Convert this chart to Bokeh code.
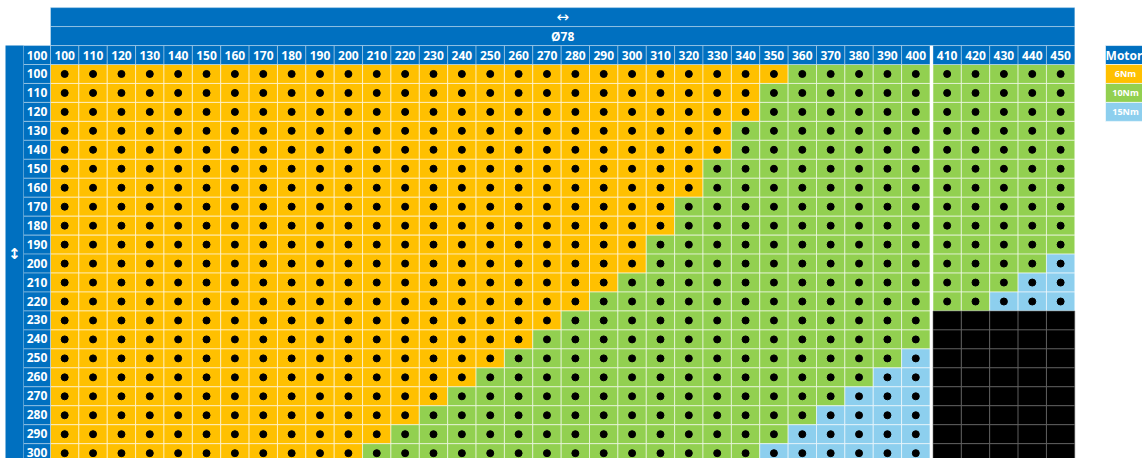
from bokeh.plotting import figure
from bokeh.models import Range1d
from bokeh.core.properties import value
from bokeh.embed import file_html
from bokeh.resources import INLINE

# ---------------- data ----------------
widths = list(range(100, 460, 10))          # column headers (mm)
heights = list(range(100, 310, 10))         # row headers (mm)
title_top = "\u2194"
title_sub = "\u00d878"
side_label = "\u2195"
corner_label = "100"
# last width that uses the 6Nm motor, per height row
orange_max = [350, 340, 340, 330, 330, 320, 320, 310, 310, 300, 300,
              290, 280, 270, 260, 250, 240, 230, 220, 210, 200]
# first width that needs the 15Nm motor, per height row (None = none)
blue_from = [None, None, None, None, None, None, None, None, None, None,
             450, 440, 430, None, None, 400, 390, 380, 370, 360, 350]
# largest width available, per height row
max_available = [450] * 13 + [400] * 8
legend_title = "Motor"
legend_labels = ["6Nm", "10Nm", "15Nm"]

# ---------------- style / layout ----------------
C_ORANGE = "#FFC000"
C_GREEN = "#92D050"
C_BLUE = "#8DCFEE"
C_BLACK = "#000000"
C_HEAD = "#0070C0"
X0, CW, GAP, SPLIT = 50.0, 28.37, 3.0, 31
Y0, RH = 64.0, 18.96
FONT = value("Open Sans")
W, H = 1142, 458


def col_left(i):
    return X0 + i * CW + (GAP if i >= SPLIT else 0.0)


def row_top(j):
    return Y0 + j * RH


p = figure(width=W, height=H, output_backend="svg", toolbar_location=None,
           x_range=Range1d(0, W), y_range=Range1d(H, 0), min_border=0)
p.axis.visible = False
p.grid.visible = False
p.outline_line_color = None
p.background_fill_color = "white"
p.border_fill_color = "white"

# cells
L, R, T, B, C, LC = [], [], [], [], [], []
dx, dy = [], []
for j, h in enumerate(heights):
    for i, w in enumerate(widths):
        if w > max_available[j]:
            col = C_BLACK
            lc = "#777777"
        elif blue_from[j] is not None and w >= blue_from[j]:
            col = C_BLUE
            lc = "white"
        elif w <= orange_max[j]:
            col = C_ORANGE
            lc = "white"
        else:
            col = C_GREEN
            lc = "white"
        l = col_left(i)
        t = row_top(j)
        L.append(l); R.append(l + CW); T.append(t); B.append(t + RH)
        C.append(col); LC.append(lc)
        if col != C_BLACK:
            dx.append(l + CW / 2); dy.append(t + RH / 2)

p.quad(left=L, right=R, top=T, bottom=B, fill_color=C, line_color=LC,
       line_alpha=0.55, line_width=1)
p.scatter(dx, dy, size=7, color="black")

# column header row
hl = [col_left(i) for i in range(len(widths))]
p.quad(left=hl, right=[v + CW for v in hl], top=[Y0 - RH] * len(widths),
       bottom=[Y0] * len(widths), fill_color=C_HEAD, line_color="white",
       line_alpha=0.35)
p.text([v + CW / 2 for v in hl], [Y0 - RH / 2] * len(widths),
       text=[str(w) for w in widths], text_align="center",
       text_baseline="middle", text_color="white", text_font=FONT,
       text_font_style="bold", text_font_size="12px")

# row header column
rt = [row_top(j) for j in range(len(heights))]
p.quad(left=[23] * len(heights), right=[X0] * len(heights), top=rt,
       bottom=[v + RH for v in rt], fill_color=C_HEAD, line_color="white",
       line_alpha=0.35)
p.text([36.5] * len(heights), [v + RH / 2 - 0.5 for v in rt],
       text=[str(h) for h in heights], text_align="center",
       text_baseline="middle", text_color="white", text_font=FONT,
       text_font_style="bold", text_font_size="12px")

# corner cell
p.quad(left=[23], right=[X0], top=[Y0 - RH], bottom=[Y0], fill_color=C_HEAD,
       line_color="white", line_alpha=0.35)
p.text([36.5], [Y0 - RH / 2], text=[corner_label], text_align="center",
       text_baseline="middle", text_color="white", text_font=FONT,
       text_font_style="bold", text_font_size="12px")

# left side bar
p.quad(left=[5], right=[23], top=[Y0 - RH], bottom=[row_top(len(heights))],
       fill_color=C_HEAD, line_color=None)
p.text([14], [(Y0 - RH + row_top(len(heights))) / 2], text=[side_label],
       text_align="center", text_baseline="middle", text_color="white",
       text_font=value("DejaVu Sans"), text_font_style="bold",
       text_font_size="15px")

# top bands
xr = col_left(len(widths) - 1) + CW
p.quad(left=[X0, X0], right=[xr, xr], top=[Y0 - 3 * RH, Y0 - 2 * RH],
       bottom=[Y0 - 2 * RH, Y0 - RH], fill_color=C_HEAD, line_color="white",
       line_alpha=0.35)
p.text([(X0 + xr) / 2], [Y0 - 2.5 * RH], text=[title_top],
       text_align="center", text_baseline="middle", text_color="white",
       text_font=value("DejaVu Sans"), text_font_size="15px")
p.text([(X0 + xr) / 2], [Y0 - 1.5 * RH], text=[title_sub],
       text_align="center", text_baseline="middle", text_color="white",
       text_font=FONT, text_font_style="bold", text_font_size="12px")

# legend
LX0, LX1 = 1105, 1145
lt = [Y0 - RH + k * RH for k in range(len(legend_labels) + 1)]
p.quad(left=[LX0] * 4, right=[LX1] * 4, top=lt, bottom=[v + RH for v in lt],
       fill_color=[C_HEAD, C_ORANGE, C_GREEN, C_BLUE], line_color="white",
       line_alpha=0.6)
p.text([1123.5], [lt[0] + RH / 2], text=[legend_title], text_align="center",
       text_baseline="middle", text_color="white", text_font=FONT,
       text_font_style="bold", text_font_size="12px")
p.text([1125] * 3, [v + RH / 2 for v in lt[1:]], text=legend_labels,
       text_align="center", text_baseline="middle", text_color="white",
       text_font=FONT, text_font_style="bold", text_font_size="9px")

open("out.html", "w").write(file_html(p, INLINE))
